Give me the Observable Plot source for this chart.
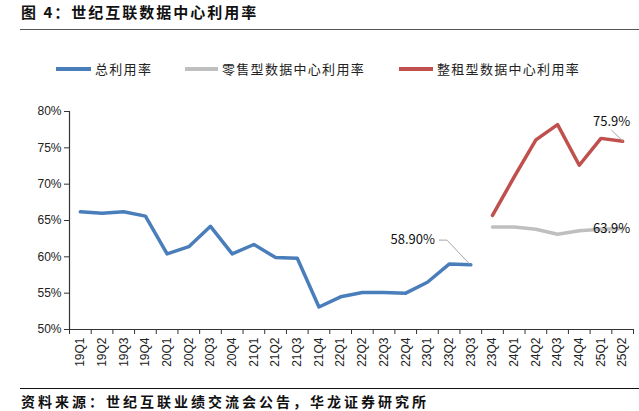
<!DOCTYPE html>
<html><head><meta charset="utf-8">
<script src="https://cdn.jsdelivr.net/npm/d3@7"></script>
<script src="https://cdn.jsdelivr.net/npm/@observablehq/plot@0.6"></script>
<style>
body{margin:0;width:639px;height:411px;overflow:hidden;position:relative;background:#fff;font-family:"Noto Sans CJK SC",sans-serif;}
.abs{position:absolute;white-space:nowrap;}
#title{left:21px;top:2px;font-size:15px;font-weight:bold;letter-spacing:2px;color:#111;line-height:20px;}
#tline{left:20px;top:29px;width:619px;height:0;border-top:1.5px solid #555;}
#bline{left:20px;top:388px;width:619px;height:0;border-top:1px solid #111;}
#source{left:21px;top:393px;font-size:14px;font-weight:bold;letter-spacing:3px;color:#111;line-height:17px;}
.sw{position:absolute;height:4px;top:67px;}
.lt{position:absolute;top:60px;font-size:13px;letter-spacing:1.3px;color:#222;line-height:18px;}
#chart{position:absolute;left:0;top:90px;}
</style></head>
<body>
<div id="title" class="abs">图 4：世纪互联数据中心利用率</div>
<div id="tline" class="abs"></div>
<div id="legend"></div>
<div id="chart"></div>
<div id="bline" class="abs"></div>
<div id="source" class="abs">资料来源：世纪互联业绩交流会公告，华龙证券研究所</div>
<script>
const quarters = ["19Q1","19Q2","19Q3","19Q4","20Q1","20Q2","20Q3","20Q4","21Q1","21Q2","21Q3","21Q4","22Q1","22Q2","22Q3","22Q4","23Q1","23Q2","23Q3","23Q4","24Q1","24Q2","24Q3","24Q4","25Q1","25Q2"];
const totalQuarters = quarters.slice(0, 19);
const totalRate = [66.2,66.0,66.2,65.6,60.4,61.4,64.2,60.4,61.7,59.9,59.8,53.1,54.5,55.1,55.1,55.0,56.5,59.0,58.9];
const segQuarters = quarters.slice(19);
const retailRate = [64.1,64.1,63.8,63.1,63.6,63.8,63.9];
const wholesaleRate = [65.7,71.0,76.1,78.2,72.6,76.3,75.9];
const yTicks = [50,55,60,65,70,75,80];
const seriesNames = ["总利用率","零售型数据中心利用率","整租型数据中心利用率"];
const colors = ["#4A7EBB","#BFBFBF","#C0504D"];

// annotations (data units: x = quarter index, y = percent)
const labels = [
  {x: 16.85, y: 62.3, text: "58.90%"},
  {x: 25.85, y: 78.6, text: "75.9%"},
  {x: 25.85, y: 63.9, text: "63.9%"}
];
const leader1 = [{x:17.05,y:62.3},{x:17.4,y:62.3},{x:18.45,y:59.0}];
const leader2 = [{x:25.0,y:77.4},{x:25.5,y:75.95}];

const pos = q => quarters.indexOf(q) + 0.5;
const total = totalQuarters.map((q,i)=>({x:pos(q), y:totalRate[i]}));
const retail = segQuarters.map((q,i)=>({x:pos(q), y:retailRate[i]}));
const wholesale = segQuarters.map((q,i)=>({x:pos(q), y:wholesaleRate[i]}));

// legend
const legend = document.getElementById("legend");
const lx = [[56,91,95],[185,218,222],[399,433,437]];
seriesNames.forEach((n,i)=>{
  const s = document.createElement("div"); s.className="sw";
  s.style.left = lx[i][0]+"px"; s.style.width = (lx[i][1]-lx[i][0])+"px"; s.style.background = colors[i];
  const t = document.createElement("div"); t.className="lt"; t.style.left = lx[i][2]+"px"; t.textContent = n;
  legend.appendChild(s); legend.appendChild(t);
});

const chart = Plot.plot({
  width: 639, height: 290,
  marginLeft: 69, marginRight: 6, marginTop: 21, marginBottom: 51,
  style: {fontFamily: "'Liberation Sans', Arial, sans-serif", color: "#222", background: "transparent"},
  x: {type: "linear", domain: [0, quarters.length], axis: null},
  y: {domain: [50, 80], axis: null},
  marks: [
    Plot.axisY({ticks: yTicks, tickSize: 5, tickPadding: 3, tickFormat: d => d + "%", fontSize: 12, label: null, stroke: "#333"}),
    Plot.axisX({ticks: d3.range(quarters.length + 1), tickSize: 5, tickFormat: () => "", label: null, stroke: "#333"}),
    Plot.axisX({ticks: d3.range(quarters.length).map(i => i + 0.5), tickSize: 0, tickPadding: 8, tickRotate: -90,
      tickFormat: d => quarters[Math.floor(d)], fontSize: 12, label: null}),
    Plot.ruleX([0], {stroke: "#333", strokeWidth: 1.2}),
    Plot.ruleY([50], {stroke: "#333", strokeWidth: 1.2}),
    Plot.line(retail, {x: "x", y: "y", stroke: colors[1], strokeWidth: 3.5}),
    Plot.line(wholesale, {x: "x", y: "y", stroke: colors[2], strokeWidth: 3.5}),
    Plot.line(total, {x: "x", y: "y", stroke: colors[0], strokeWidth: 3.5}),
    Plot.line(leader1, {x: "x", y: "y", stroke: "#A6A6A6", strokeWidth: 1}),
    Plot.line(leader2, {x: "x", y: "y", stroke: "#A6A6A6", strokeWidth: 1}),
    Plot.text(labels, {x: "x", y: "y", text: "text", textAnchor: "end", fontSize: 13, fill: "#111",
      fontFamily: "'Noto Sans CJK SC', sans-serif", letterSpacing: "0.5px"})
  ]
});
document.getElementById("chart").appendChild(chart);
</script>
</body></html>
